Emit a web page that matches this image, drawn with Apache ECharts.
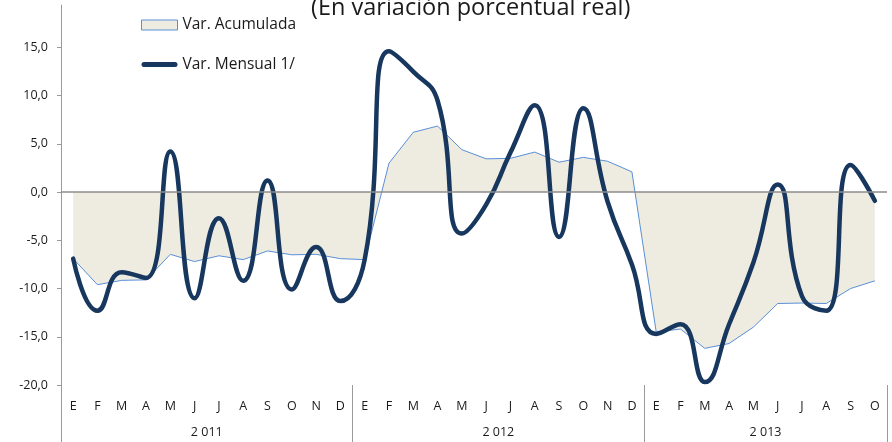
<!DOCTYPE html>
<html>
<head>
<meta charset="utf-8">
<script src="https://cdn.jsdelivr.net/npm/echarts@6/dist/echarts.min.js"></script>
<style>html,body{margin:0;padding:0;background:#fff;}#c{width:892px;height:442px;}</style>
</head>
<body>
<div id="c"></div>
<script>
var titleText = '(En variación porcentual real)';
var months = ['E','F','M','A','M','J','J','A','S','O','N','D',
              'E','F','M','A','M','J','J','A','S','O','N','D',
              'E','F','M','A','M','J','J','A','S','O'];
var years = ['2 011', '2 012', '2 013'];
var yearLabelIndex = [5, 17, 28];
var yearStartIndex = [0, 12, 24];
var acumulada = [-6.9, -9.6, -9.15, -9.1, -6.45, -7.2, -6.6, -7.0, -6.1, -6.5, -6.45, -6.9,
                 -7.0, 3.0, 6.2, 6.85, 4.4, 3.45, 3.5, 4.15, 3.1, 3.6, 3.2, 2.1,
                 -14.5, -14.2, -16.2, -15.7, -14.0, -11.55, -11.5, -11.55, -10.0, -9.2];
var mensual = [-6.9, -12.3, -8.3, -8.9, 4.2, -11.0, -2.7, -9.2, 1.2, -10.1, -5.7, -11.3,
               -7.0, 14.6, 12.5, 9.5, -4.3, -1.3, 4.1, 9.0, -4.65, 8.7, -1.0, -7.5,
               -14.7, -13.7, -19.7, -13.7, -7.3, 0.8, -10.8, -12.3, 2.8, -0.9];
var yTicks = [-20, -15, -10, -5, 0, 5, 10, 15];
var seriesNames = ['Var. Acumulada', 'Var. Mensual 1/'];

var FONT = 'Open Sans';
var chart = echarts.init(document.getElementById('c'), null, {renderer: 'canvas'});
var catIdx = months.map(function (m, i) { return i; });

chart.setOption({
  animation: false,
  backgroundColor: '#ffffff',
  title: {
    text: titleText,
    left: 311, top: -4, padding: 0,
    textStyle: {fontFamily: FONT, fontSize: 23.5, fontWeight: 'normal', color: '#1a1a1a'}
  },
  legend: {
    orient: 'vertical',
    left: 141, top: 17, padding: 0,
    itemWidth: 36, itemHeight: 10, itemGap: 23.5,
    textStyle: {fontFamily: FONT, fontSize: 15.5, color: '#1a1a1a'},
    data: [
      {name: seriesNames[0], icon: 'rect',
       itemStyle: {color: '#EEECE1', borderColor: '#5A8FD8', borderWidth: 1}},
      {name: seriesNames[1], icon: 'path://M2.5,0 L33.5,0 A2.5,2.5 0 0 1 33.5,5 L2.5,5 A2.5,2.5 0 0 1 2.5,0 Z',
       itemStyle: {color: '#17375E', borderWidth: 0}}
    ]
  },
  grid: {left: 61, right: 5, top: 5, bottom: 57, containLabel: false},
  xAxis: [
    {
      type: 'category', data: months, boundaryGap: true, position: 'bottom',
      axisLine: {show: false}, axisTick: {show: false},
      axisLabel: {interval: 0, margin: 15, fontFamily: FONT, fontSize: 12.5, color: '#1a1a1a'}
    },
    {
      type: 'category', data: catIdx, boundaryGap: true, position: 'bottom', offset: 0,
      axisLine: {show: false},
      axisTick: {show: true, length: 57,
        interval: function (i) { return yearStartIndex.indexOf(i) >= 0; },
        lineStyle: {color: '#9a9a9a', width: 1}},
      axisLabel: {
        interval: 0, margin: 41,
        formatter: function (v, i) {
          var k = yearLabelIndex.indexOf(i);
          return k >= 0 ? '{y|' + years[k] + '}' : '';
        },
        rich: {y: {padding: [0, 0, 0, 24.3], fontFamily: FONT, fontSize: 12.5, color: '#1a1a1a'}}
      },
      splitLine: {show: false}
    }
  ],
  yAxis: {
    type: 'value', min: -20, max: 19.4, interval: 5,
    axisLine: {show: true, lineStyle: {color: '#9a9a9a', width: 1}},
    axisTick: {show: true, length: 4, customValues: yTicks, lineStyle: {color: '#9a9a9a'}},
    splitLine: {show: false},
    axisLabel: {
      customValues: yTicks, margin: 13,
      fontFamily: FONT, fontSize: 12.5, color: '#1a1a1a',
      formatter: function (v) { return v.toFixed(1).replace('.', ','); }
    }
  },
  series: [
    {
      name: seriesNames[0], type: 'line', data: acumulada, xAxisIndex: 0,
      showSymbol: false, symbol: 'none', smooth: false, z: 1,
      lineStyle: {color: '#5A8FD8', width: 1},
      itemStyle: {color: '#EEECE1'},
      areaStyle: {color: '#EEECE1', opacity: 1},
      markLine: {
        silent: true, symbol: 'none', label: {show: false},
        lineStyle: {color: '#8c8c8c', width: 1.5, type: 'solid'},
        data: [{yAxis: 0}]
      }
    },
    {
      name: seriesNames[1], type: 'line', data: mensual, xAxisIndex: 0,
      showSymbol: false, symbol: 'none', smooth: 0.5, z: 3,
      lineStyle: {color: '#17375E', width: 4.5, cap: 'round', join: 'round'},
      itemStyle: {color: '#17375E'}
    }
  ]
});
</script>
</body>
</html>
